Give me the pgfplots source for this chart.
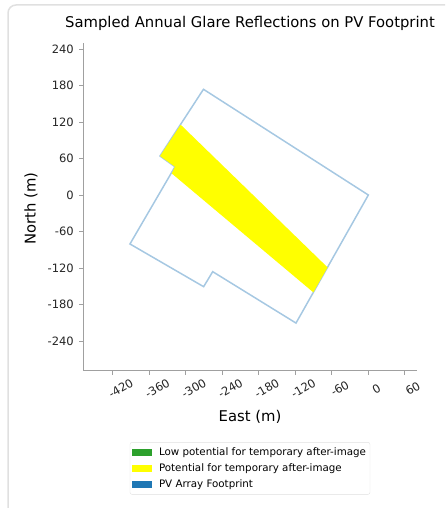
\documentclass[border=0pt]{standalone}
\usepackage{pgfplots}
\pgfplotsset{compat=1.18}
\usepackage{fontspec}
\setmainfont{DejaVu Sans}
\definecolor{fpblue}{RGB}{166,200,226}
\definecolor{framegray}{RGB}{224,224,224}
\definecolor{spinegray}{RGB}{160,160,160}
\definecolor{lowgreen}{RGB}{44,160,44}
\definecolor{pvblue}{RGB}{31,119,180}
\definecolor{glareyellow}{RGB}{255,255,0}
\begin{document}
\begin{tikzpicture}[x=1pt,y=1pt]
\useasboundingbox (0,0) rectangle (445,508);
\begin{scope}
\clip (0,0) rectangle (445,508);
\draw[line width=1.5pt, draw=framegray, rounded corners=8pt] (8,503) rectangle (480,-40);
\end{scope}
\begin{axis}[
  at={(83.3pt,137.3pt)}, anchor=south west,
  scale only axis, width=333.4pt, height=328pt,
  xmin=-468.5, xmax=79.5, ymin=-288.8, ymax=250.4,
  axis x line*=bottom, axis y line*=left,
  axis line style={spinegray, line width=0.8pt},
  xtick={-420,-360,...,60}, ytick={-240,-180,...,240},
  tick align=outside, major tick length=4pt,
  tick style={spinegray, line width=0.8pt},
  /pgf/number format/assume math mode=true,
  ticklabel style={font=\fontsize{11.5}{13}\selectfont, text=black!85},
  xticklabel style={rotate=30, anchor=center, yshift=-16pt},
  yticklabel style={anchor=east, xshift=-2pt},
  title={Sampled Annual Glare Reflections on PV Footprint},
  title style={font=\fontsize{14.8}{17}\selectfont, at={(axis description cs:0.5,1.039)}, anchor=center},
  xlabel={East (m)}, ylabel={North (m)},
  label style={font=\fontsize{14.8}{17}\selectfont},
  xlabel style={at={(axis description cs:0.5,-0.141)}, anchor=center},
  ylabel style={at={(axis description cs:-0.157,0.495)}, anchor=center, rotate=0},
  legend style={at={(axis description cs:0.5,-0.218)}, anchor=north,
    font=\fontsize{10.3}{12}\selectfont, draw=framegray, rounded corners=2pt,
    inner xsep=2pt, inner ysep=3pt, row sep=3pt},
  legend cell align=left,
  legend image code/.code={\fill[#1, draw=none, sharp corners] (0pt,-3.5pt) rectangle (20pt,3.5pt); \path (25pt,0pt);},
]
\addlegendimage{fill=lowgreen, draw=none}
\addlegendentry{Low potential for temporary after-image}
\addlegendimage{fill=glareyellow, draw=none}
\addlegendentry{Potential for temporary after-image}
\addlegendimage{fill=pvblue, draw=none}
\addlegendentry{PV Array Footprint}
\addplot[draw=fpblue, line width=1.5pt, forget plot] coordinates {
(-271,173.8) (0,0) (-118.9,-210.5) (-255.8,-126) (-270.7,-150.7)
(-391.8,-80.5) (-317.8,46.5) (-342.4,64.1) (-271,173.8)} -- cycle;
\addplot[fill=glareyellow, draw=none, forget plot] coordinates {
(-308.4,115.5) (-67,-119) (-90.4,-160) (-323.2,35.5) (-317.8,46.5) (-342.4,64.1)} -- cycle;
\end{axis}
\end{tikzpicture}
\end{document}
